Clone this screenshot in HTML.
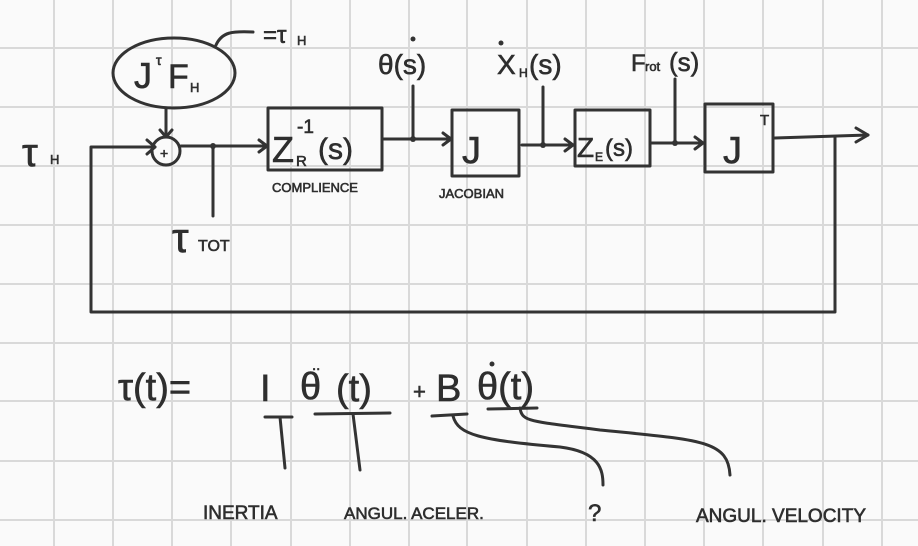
<!DOCTYPE html>
<html><head><meta charset="utf-8"><style>
html,body{margin:0;padding:0;background:#fafafa;}
svg{display:block;}
text{font-family:"Liberation Sans",sans-serif;fill:#2e2e2e;stroke:#2e2e2e;stroke-width:0.6;}
</style></head><body>
<svg width="918" height="546" viewBox="0 0 918 546" xmlns="http://www.w3.org/2000/svg">
<rect width="918" height="546" fill="#fafafa"/>
<g stroke="#d9d9d9" stroke-width="2">
<line x1="54" y1="0" x2="54" y2="546"/><line x1="113" y1="0" x2="113" y2="546"/><line x1="172" y1="0" x2="172" y2="546"/><line x1="231" y1="0" x2="231" y2="546"/><line x1="291" y1="0" x2="291" y2="546"/><line x1="350" y1="0" x2="350" y2="546"/><line x1="409" y1="0" x2="409" y2="546"/><line x1="467" y1="0" x2="467" y2="546"/><line x1="527" y1="0" x2="527" y2="546"/><line x1="586" y1="0" x2="586" y2="546"/><line x1="645" y1="0" x2="645" y2="546"/><line x1="704" y1="0" x2="704" y2="546"/><line x1="763" y1="0" x2="763" y2="546"/><line x1="823" y1="0" x2="823" y2="546"/><line x1="882" y1="0" x2="882" y2="546"/>
<line x1="0" y1="48" x2="918" y2="48"/><line x1="0" y1="107" x2="918" y2="107"/><line x1="0" y1="166" x2="918" y2="166"/><line x1="0" y1="225" x2="918" y2="225"/><line x1="0" y1="284" x2="918" y2="284"/><line x1="0" y1="343" x2="918" y2="343"/><line x1="0" y1="401" x2="918" y2="401"/><line x1="0" y1="461" x2="918" y2="461"/><line x1="0" y1="520" x2="918" y2="520"/>
</g>
<g stroke="#333" stroke-width="3" fill="none" stroke-linecap="round" stroke-linejoin="round">
<polyline points="155,147 91,147 91,312 835,312 835,137"/>
<polyline points="147,140 155,147 147,154"/>
<ellipse cx="174" cy="73" rx="61" ry="35"/>
<path d="M216,45 C222,32 232,31 253,32"/>
<line x1="166" y1="108" x2="166" y2="137"/>
<polyline points="160,130 166,137 172,130"/>
<circle cx="166" cy="151" r="14"/>
<line x1="181" y1="146" x2="267" y2="146"/>
<polyline points="259,140 267,146 259,152"/>
<line x1="213" y1="146" x2="213" y2="216"/>
<rect x="268" y="108" width="114" height="62"/>
<rect x="452" y="110" width="67" height="66"/>
<rect x="575" y="110" width="75" height="56"/>
<rect x="705" y="104" width="68" height="68"/>
<line x1="382" y1="139" x2="451" y2="139"/>
<polyline points="443,133 451,139 443,145"/>
<line x1="413" y1="86" x2="413" y2="139"/>
<line x1="522" y1="145" x2="573" y2="145"/>
<polyline points="565,139 573,145 565,151"/>
<line x1="543" y1="87" x2="543" y2="145"/>
<line x1="650" y1="143" x2="703" y2="143"/>
<polyline points="695,137 703,143 695,149"/>
<line x1="675" y1="79" x2="675" y2="143"/>
<path d="M775,138 L868,135"/>
<polyline points="856,128 868,135 856,142"/>
<line x1="265" y1="417" x2="292" y2="417"/><line x1="280" y1="417" x2="285" y2="468"/>
<line x1="315" y1="414" x2="390" y2="413"/><line x1="353" y1="414" x2="360" y2="470"/>
<line x1="432" y1="416" x2="467" y2="414"/>
<path d="M453,416 C458,435 480,440 560,447 C600,452 603,470 603,485"/>
<line x1="488" y1="409" x2="537" y2="408"/>
<path d="M520,408 C522,422 530,421 600,430 C700,440 728,440 730,475"/>
</g>
<g fill="#333">
<circle cx="213" cy="146" r="3"/><circle cx="413" cy="139" r="3"/><circle cx="543" cy="145" r="3"/><circle cx="675" cy="143" r="3"/>
<circle cx="413" cy="39" r="2.5"/><circle cx="501" cy="43" r="2.5"/><circle cx="492" cy="364" r="2.5"/>
</g>
<text x="160" y="158" font-size="14">+</text>
<text x="134" y="88" font-size="36">J</text><text x="156" y="65" font-size="14">τ</text><text x="168" y="88" font-size="34">F</text><text x="190" y="92" font-size="13">H</text>
<text x="263" y="43" font-size="24">=τ</text><text x="297" y="45" font-size="13">H</text>
<text x="22" y="166" font-size="40">τ</text><text x="50" y="164" font-size="13">H</text>
<text x="172" y="252" font-size="42">τ</text><text x="198" y="251" font-size="16">TOT</text>
<text x="272" y="162" font-size="36">Z</text><text x="296" y="166" font-size="15">R</text><text x="297" y="133" font-size="19">-1</text><text x="318" y="159" font-size="30">(s)</text>
<text x="272" y="192" font-size="13">COMPLIENCE</text>
<text x="462" y="163" font-size="38">J</text>
<text x="439" y="198" font-size="13">JACOBIAN</text>
<text x="577" y="157" font-size="28">Z</text><text x="595" y="161" font-size="12">E</text><text x="605" y="156" font-size="24">(s)</text>
<text x="723" y="163" font-size="38">J</text><text x="760" y="125" font-size="15">T</text>
<text x="378" y="74" font-size="28">θ(s)</text>
<text x="497" y="74" font-size="28">X</text><text x="519" y="77" font-size="12">H</text><text x="529" y="74" font-size="28">(s)</text>
<text x="631" y="71" font-size="24">F</text><text x="645" y="71" font-size="13">rot</text><text x="669" y="71" font-size="26">(s)</text>
<text x="118" y="400" font-size="38">τ(t)=</text>
<text x="260" y="401" font-size="38">I</text>
<text x="300" y="399" font-size="38">θ</text><text x="312" y="370" font-size="15">..</text>
<text x="336" y="401" font-size="38">(t)</text>
<text x="413" y="399" font-size="22">+</text>
<text x="436" y="401" font-size="38">B</text>
<text x="477" y="399" font-size="38">θ(t)</text>
<text x="203" y="519" font-size="19">INERTIA</text>
<text x="344" y="519" font-size="17">ANGUL. ACELER.</text>
<text x="588" y="521" font-size="24">?</text>
<text x="696" y="522" font-size="19">ANGUL. VELOCITY</text>
</svg>
</body></html>
